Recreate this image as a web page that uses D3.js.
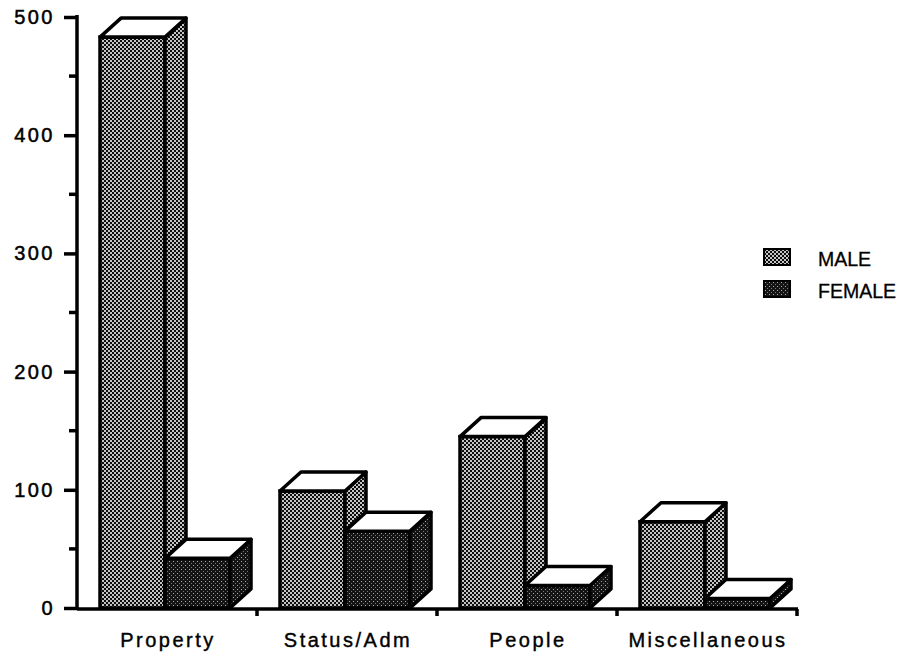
<!DOCTYPE html>
<html><head><meta charset="utf-8">
<script src="https://cdn.jsdelivr.net/npm/d3@7"></script>
<style>body{margin:0;background:#fff}svg{display:block}</style>
</head><body>
<script>
const categories = ["Property", "Status/Adm", "People", "Miscellaneous"];
const maleValues = [483, 99, 145, 73];
const femaleValues = [42, 65, 19, 8];
const seriesNames = ["MALE", "FEMALE"];
const yTicks = [0, 100, 200, 300, 400, 500];
const yMinorTicks = [50, 150, 250, 350, 450];

const W = 911, H = 656;
const FONT = "Liberation Sans, Arial, Helvetica, sans-serif";
const svg = d3.select("body").append("svg").attr("width", W).attr("height", H);
const defs = svg.append("defs");

// patterns
const pm = defs.append("pattern").attr("id", "pMale").attr("width", 4).attr("height", 4).attr("patternUnits", "userSpaceOnUse");
pm.append("rect").attr("width", 4).attr("height", 4).attr("fill", "#0d0d0d");
pm.append("rect").attr("x", 2).attr("y", 0).attr("width", 2).attr("height", 2).attr("fill", "#c4c4c4");
pm.append("rect").attr("x", 0).attr("y", 2).attr("width", 2).attr("height", 2).attr("fill", "#c4c4c4");
const pf = defs.append("pattern").attr("id", "pFemale").attr("width", 4).attr("height", 4).attr("patternUnits", "userSpaceOnUse");
pf.append("rect").attr("width", 4).attr("height", 4).attr("fill", "#141414");
pf.append("rect").attr("x", 1).attr("y", 1).attr("width", 1).attr("height", 1).attr("fill", "#aaa");
pf.append("rect").attr("x", 3).attr("y", 3).attr("width", 1).attr("height", 1).attr("fill", "#777");

const x0 = 77, x1 = 797;
const y = d3.scaleLinear().domain([0, 500]).range([608, 17]);
const x = d3.scaleBand().domain(categories).range([x0, x1]).padding(0);
const barW = 65, off = 23, dx = 21, dy = 19, SW = 3.5;

// axes
const yAxis = svg.append("g").attr("transform", `translate(${x0},0)`)
  .call(d3.axisLeft(y).tickValues(yTicks).tickSize(13).tickPadding(9).tickSizeOuter(0));
yAxis.select(".domain").remove();
yAxis.selectAll(".tick line").attr("stroke", "#000").attr("stroke-width", 3.5);
yAxis.selectAll(".tick text").attr("font-family", FONT).attr("font-size", 20).attr("letter-spacing", 2.5)
  .attr("fill", "#000").attr("stroke", "#000").attr("stroke-width", 0.5);
yAxis.selectAll(".minor").data(yMinorTicks).enter().append("line").attr("class", "minor")
  .attr("x1", -8).attr("x2", 0).attr("y1", d => y(d)).attr("y2", d => y(d)).attr("stroke", "#000").attr("stroke-width", 3.5);
svg.append("line").attr("x1", x0).attr("x2", x0).attr("y1", y(500) - 2).attr("y2", y(0) + 2).attr("stroke", "#000").attr("stroke-width", 3.5);

const xAxis = svg.append("g").attr("transform", `translate(0,${y(0) + 1})`);
xAxis.append("line").attr("x1", x0).attr("x2", x1 + 1).attr("stroke", "#000").attr("stroke-width", 3.5);
xAxis.selectAll(".xt").data(categories).enter().append("line")
  .attr("x1", d => x(d) + x.bandwidth()).attr("x2", d => x(d) + x.bandwidth())
  .attr("y1", 0).attr("y2", 7).attr("stroke", "#000").attr("stroke-width", 3.5);
xAxis.selectAll(".xl").data(categories).enter().append("text")
  .attr("x", d => x(d) + x.bandwidth() / 2 + 1).attr("y", 38)
  .attr("text-anchor", "middle").attr("font-family", FONT)
  .attr("font-size", 20).attr("letter-spacing", 2.5)
  .attr("stroke", "#000").attr("stroke-width", 0.4).text(d => d);

// bars
function bar3d(g, left, val, fill) {
  const top = y(val), bottom = y(0), r = left + barW;
  g.append("rect").attr("x", left).attr("y", top).attr("width", barW).attr("height", bottom - top)
    .attr("fill", fill).attr("stroke", "#000").attr("stroke-width", SW);
  g.append("polygon").attr("points", `${r},${bottom} ${r + dx},${bottom - dy} ${r + dx},${top - dy} ${r},${top}`)
    .attr("fill", fill).attr("stroke", "#000").attr("stroke-width", SW).attr("stroke-linejoin", "round");
  g.append("polygon").attr("points", `${left},${top} ${left + dx},${top - dy} ${r + dx},${top - dy} ${r},${top}`)
    .attr("fill", "#fff").attr("stroke", "#000").attr("stroke-width", SW).attr("stroke-linejoin", "round");
}
const bars = svg.append("g");
categories.forEach((c, i) => {
  const g = bars.append("g");
  bar3d(g, x(c) + off, maleValues[i], "url(#pMale)");
  bar3d(g, x(c) + off + barW, femaleValues[i], "url(#pFemale)");
});

// legend
const fills = ["url(#pMale)", "url(#pFemale)"];
const leg = svg.append("g").attr("transform", "translate(764,249)");
seriesNames.forEach((s, i) => {
  leg.append("rect").attr("x", 0).attr("y", i * 32).attr("width", 26).attr("height", 16)
    .attr("fill", fills[i]).attr("stroke", "#000").attr("stroke-width", 2);
  leg.append("text").attr("x", 54).attr("y", i * 32 + 17).attr("font-family", FONT)
    .attr("font-size", 19.5).attr("letter-spacing", 0).attr("stroke", "#000").attr("stroke-width", 0.3).text(s);
});
</script>
</body></html>
